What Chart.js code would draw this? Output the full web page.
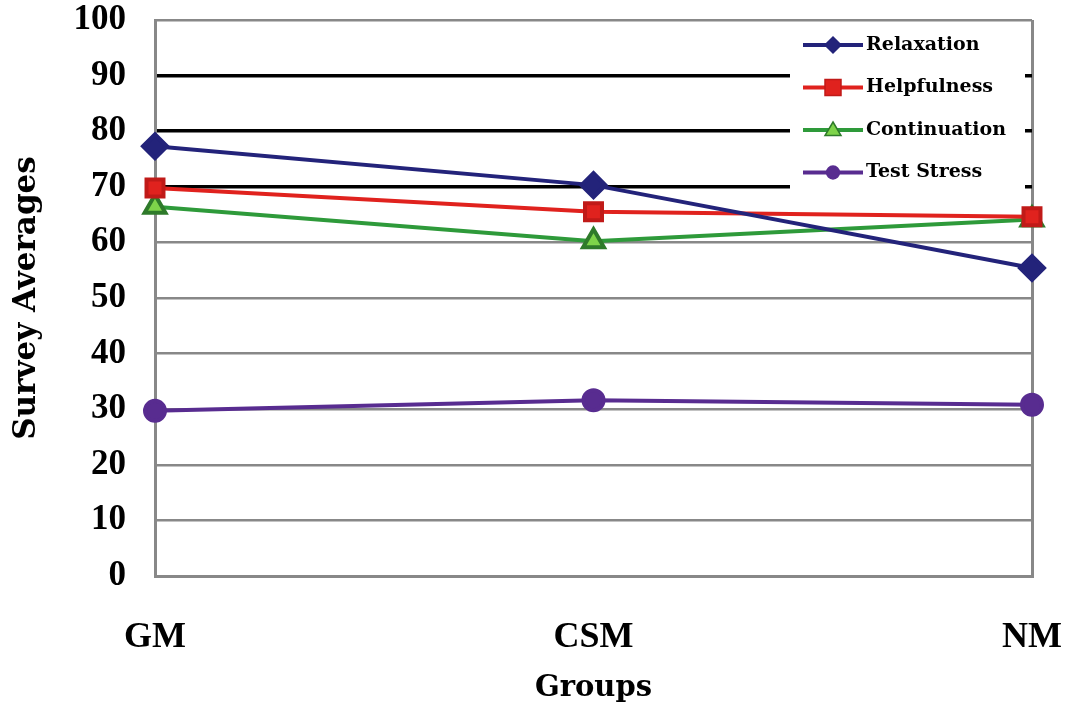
<!DOCTYPE html>
<html>
<head>
<meta charset="utf-8">
<script src="https://cdn.jsdelivr.net/npm/chart.js@4"></script>
<style>
  html, body { margin: 0; padding: 0; background: #fff; }
  #wrap { width: 1071px; height: 706px; }
</style>
</head>
<body>
<div id="wrap"><canvas id="myChart"></canvas></div>
<script>
const groups = ['GM', 'CSM', 'NM'];
const relaxation = [77.3, 70.3, 55.4];
const helpfulness = [69.8, 65.5, 64.6];
const continuation = [66.4, 60.2, 64.1];
const testStress = [29.7, 31.6, 30.8];
const yTicks = [0, 10, 20, 30, 40, 50, 60, 70, 80, 90, 100];

const serif = '"Liberation Serif", "Times New Roman", serif';
const wideSerif = '"DejaVu Serif", serif';
const ctx = document.getElementById('myChart');

// legend drawn inside the plot, top right, on a white box
const boxLegend = {
  id: 'boxLegend',
  beforeDatasetsDraw(chart) {
    const c = chart.ctx;
    const area = chart.chartArea;
    const x0 = area.right - 242;
    c.save();
    c.fillStyle = '#fff';
    c.fillRect(x0, area.top + 2, 235, 176);
    chart.data.datasets.forEach((ds, i) => {
      const y = area.top + 25 + i * 42.5;
      const lx = x0 + 13;
      c.strokeStyle = ds.borderColor;
      c.lineWidth = 4;
      c.beginPath();
      c.moveTo(lx, y);
      c.lineTo(lx + 60, y);
      c.stroke();
      c.fillStyle = ds.pointBackgroundColor;
      c.strokeStyle = ds.pointBorderColor;
      c.lineWidth = 1.5;
      const cx = lx + 30, r = 8;
      c.beginPath();
      if (ds.pointStyle === 'rectRot') {
        c.moveTo(cx, y - r); c.lineTo(cx + r, y); c.lineTo(cx, y + r); c.lineTo(cx - r, y);
      } else if (ds.pointStyle === 'rect') {
        c.rect(cx - r, y - r, 2 * r, 2 * r);
      } else if (ds.pointStyle === 'triangle') {
        c.moveTo(cx, y - r); c.lineTo(cx + r, y + r * 0.7); c.lineTo(cx - r, y + r * 0.7);
      } else {
        c.arc(cx, y, r * 0.8, 0, Math.PI * 2);
      }
      c.closePath();
      c.fill();
      c.stroke();
      c.fillStyle = '#000';
      c.font = 'bold 19px ' + wideSerif;
      c.textBaseline = 'middle';
      c.fillText(ds.label, lx + 63, y);
    });
    c.restore();
  }
};

new Chart(ctx, {
  type: 'line',
  data: {
    labels: groups,
    datasets: [
      {
        label: 'Relaxation',
        data: relaxation,
        borderColor: '#23237a',
        pointBackgroundColor: '#23237a',
        pointBorderColor: '#23237a',
        pointStyle: 'rectRot',
        pointRadius: 12,
        borderWidth: 4
      },
      {
        label: 'Helpfulness',
        data: helpfulness,
        borderColor: '#e0221e',
        pointBackgroundColor: '#e0221e',
        pointBorderColor: '#c01a18',
        pointStyle: 'rect',
        pointRadius: 12,
        borderWidth: 4
      },
      {
        label: 'Continuation',
        data: continuation,
        borderColor: '#2e9a3a',
        pointBackgroundColor: '#7ed44a',
        pointBorderColor: '#2e7a2a',
        pointStyle: 'triangle',
        pointRadius: 12,
        borderWidth: 4
      },
      {
        label: 'Test Stress',
        data: testStress,
        borderColor: '#582c90',
        pointBackgroundColor: '#582c90',
        pointBorderColor: '#582c90',
        pointStyle: 'circle',
        pointRadius: 10,
        borderWidth: 4
      }
    ]
  },
  options: {
    responsive: true,
    maintainAspectRatio: false,
    animation: false,
    layout: { padding: { top: 20, right: 39, left: 0, bottom: 0 } },
    plugins: {
      legend: { display: false },
      tooltip: { enabled: false }
    },
    elements: { line: { tension: 0 } },
    scales: {
      x: {
        offset: false,
        afterFit(scale) {
          scale.height = 130;
          scale.paddingLeft = 0;
          scale.paddingRight = 0;
        },
        grid: {
          drawTicks: false,
          lineWidth: 3,
          color: (c) => c.index === 2 ? '#888' : 'rgba(0,0,0,0)'
        },
        border: { color: '#888', width: 3 },
        ticks: {
          color: '#000',
          padding: 40,
          font: { family: serif, size: 36, weight: 'bold' }
        },
        title: {
          display: true,
          text: 'Groups',
          color: '#000',
          padding: { top: 2, bottom: 0 },
          font: { family: wideSerif, size: 29, weight: 'bold' }
        }
      },
      y: {
        min: 0,
        max: 100,
        afterFit(scale) {
          scale.width = 155;
          scale.paddingTop = 0;
          scale.paddingBottom = 0;
        },
        afterBuildTicks(scale) { scale.ticks = yTicks.map(v => ({ value: v })); },
        grid: {
          drawTicks: false,
          lineWidth: (c) => [70, 80, 90].includes(c.tick.value) ? 3.5 : 2.5,
          color: (c) => [70, 80, 90].includes(c.tick.value) ? '#000' : '#888'
        },
        border: { color: '#888', width: 3 },
        ticks: {
          color: '#000',
          padding: 29,
          font: { family: serif, size: 35, weight: 'bold' }
        },
        title: {
          display: true,
          text: 'Survey Averages',
          color: '#000',
          padding: { top: 8, bottom: 0 },
          font: { family: wideSerif, size: 31, weight: 'bold' }
        }
      }
    }
  },
  plugins: [boxLegend]
});
</script>
</body>
</html>
